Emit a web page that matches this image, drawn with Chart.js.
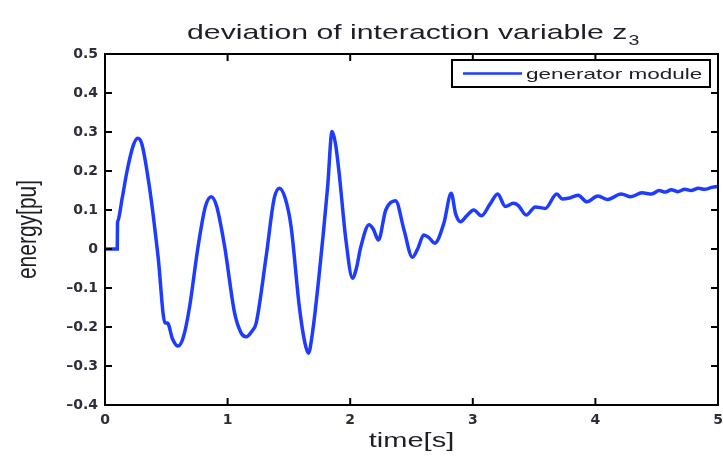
<!DOCTYPE html>
<html>
<head>
<meta charset="utf-8">
<script src="https://cdn.jsdelivr.net/npm/chart.js@4.4.1/dist/chart.umd.min.js"></script>
<style>
    body { margin: 0; background: #fff; }
</style>
</head>
<body>
<canvas id="z3" width="723" height="457"></canvas>
<script>
// texts
const chart_title = 'deviation of interaction variable z';
const title_sub = '3';
const series_label = 'generator module';
const x_title = 'time[s]';
const y_title = 'energy[pu]';

// tick values
const x_ticks = [0, 1, 2, 3, 4, 5];
const y_ticks = [-0.4, -0.3, -0.2, -0.1, 0, 0.1, 0.2, 0.3, 0.4, 0.5];

// curve
const time_s = [0, 0.1, 0.102, 0.105, 0.14, 0.18, 0.23, 0.266, 0.3, 0.366, 0.433, 0.49, 0.51, 0.55, 0.596, 0.64,
    0.69, 0.759, 0.82, 0.867, 0.91, 0.976, 1.057, 1.11, 1.152, 1.2, 1.233, 1.314, 1.38, 1.423, 1.47,
    1.518, 1.585, 1.63, 1.659, 1.69, 1.748, 1.816, 1.852, 1.88, 1.91, 1.965, 2.019, 2.05, 2.087, 2.154,
    2.19, 2.23, 2.29, 2.37, 2.439, 2.507, 2.55, 2.6, 2.64, 2.69, 2.764, 2.824, 2.86, 2.9, 2.95, 3.008,
    3.07, 3.14, 3.203, 3.265, 3.33, 3.37, 3.436, 3.51, 3.59, 3.685, 3.73, 3.78, 3.86, 3.93, 4.02, 4.1,
    4.21, 4.29, 4.38, 4.46, 4.52, 4.57, 4.62, 4.67, 4.73, 4.78, 4.84, 4.89, 4.95, 5];
const energy_pu = [0, 0, 0.067, 0.072, 0.13, 0.2, 0.265, 0.284, 0.27, 0.151, -0.02, -0.19, -0.19, -0.23, -0.249, -0.225,
    -0.148, 0.006, 0.11, 0.134, 0.11, 0.006, -0.164, -0.215, -0.225, -0.21, -0.19, -0.02, 0.13, 0.156, 0.13,
    0.057, -0.148, -0.24, -0.267, -0.22, -0.062, 0.16, 0.301, 0.27, 0.194, 0.023, -0.075, -0.05, 0.006, 0.062,
    0.05, 0.023, 0.1, 0.124, 0.049, -0.021, 0.0, 0.036, 0.03, 0.015, 0.066, 0.143, 0.09, 0.07, 0.085, 0.1,
    0.085, 0.115, 0.141, 0.109, 0.117, 0.112, 0.087, 0.108, 0.104, 0.141, 0.128, 0.13, 0.138, 0.121, 0.136, 0.127,
    0.141, 0.134, 0.144, 0.141, 0.15, 0.146, 0.152, 0.147, 0.153, 0.15, 0.156, 0.153, 0.158, 0.16];

const line_color = '#1e3cff';
const text_color = '#1e1e28';

// the source figure is stretched sideways, so texts are drawn scaled
function stretchText(ctx, text, x, y, size, sx, align) {
    ctx.save();
    ctx.translate(x, y);
    ctx.scale(sx, 1);
    ctx.font = size + 'px "Liberation Sans", Arial, sans-serif';
    ctx.textAlign = align;
    ctx.textBaseline = 'alphabetic';
    ctx.fillStyle = text_color;
    ctx.fillText(text, 0, 0);
    const w = ctx.measureText(text).width * sx;
    ctx.restore();
    return w;
}

const matlabFrame = {
    id: 'matlabFrame',
    afterDraw(chart) {
        const ctx = chart.ctx;
        const a = chart.chartArea;
        const xs = chart.scales.x;
        const ys = chart.scales.y;

        // box and inner ticks
        ctx.save();
        ctx.strokeStyle = '#000';
        ctx.lineWidth = 2;
        ctx.beginPath();
        ctx.rect(a.left, a.top, a.right - a.left, a.bottom - a.top);
        ctx.stroke();
        ctx.beginPath();
        x_ticks.forEach(v => {
            const px = xs.getPixelForValue(v);
            ctx.moveTo(px, a.bottom); ctx.lineTo(px, a.bottom - 7);
            ctx.moveTo(px, a.top); ctx.lineTo(px, a.top + 7);
        });
        y_ticks.forEach(v => {
            const py = ys.getPixelForValue(v);
            ctx.moveTo(a.left, py); ctx.lineTo(a.left + 7, py);
            ctx.moveTo(a.right, py); ctx.lineTo(a.right - 7, py);
        });
        ctx.stroke();
        ctx.restore();

        // title with subscript
        const w = stretchText(ctx, chart_title, 187, 39, 21, 1.44, 'left');
        stretchText(ctx, title_sub, 187 + w + 1, 45, 14, 1.4, 'left');

        // axis titles
        stretchText(ctx, x_title, (a.left + a.right) / 2, 447, 20, 1.45, 'center');
        ctx.save();
        ctx.translate(36, (a.top + a.bottom) / 2);
        ctx.rotate(-Math.PI / 2);
        ctx.scale(1.05, 1.35);
        ctx.font = '20px "Liberation Sans", Arial, sans-serif';
        ctx.textAlign = 'center';
        ctx.fillStyle = text_color;
        ctx.fillText(y_title, 0, 0);
        ctx.restore();

        // legend box in the upper right corner
        const bx = a.right - 266, by = a.top + 6, bw = 258, bh = 27;
        ctx.save();
        ctx.fillStyle = '#fff';
        ctx.fillRect(bx, by, bw, bh);
        ctx.strokeStyle = '#000';
        ctx.lineWidth = 2;
        ctx.strokeRect(bx, by, bw, bh);
        ctx.strokeStyle = line_color;
        ctx.lineWidth = 2.5;
        ctx.beginPath();
        ctx.moveTo(bx + 11, by + bh / 2);
        ctx.lineTo(bx + 70, by + bh / 2);
        ctx.stroke();
        ctx.restore();
        stretchText(ctx, chart.data.datasets[0].label, bx + 74, by + 19, 15, 1.5, 'left');
    }
};

const data = {
    datasets: [{
        label: series_label,
        data: time_s.map((t, i) => ({ x: t, y: energy_pu[i] })),
        borderColor: line_color,
        borderWidth: 3.5,
        pointRadius: 0,
        fill: false,
        cubicInterpolationMode: 'monotone'
    }]
};

const tickFont = { family: 'DejaVu Sans', size: 14, weight: 'bold' };

const config = {
    type: 'line',
    data,
    options: {
        responsive: false,
        animation: false,
        layout: {
            padding: { top: 54, right: 5, left: 0, bottom: 0 }
        },
        plugins: {
            legend: { display: false },
            title: { display: false },
            tooltip: { enabled: false }
        },
        scales: {
            x: {
                type: 'linear',
                min: 0,
                max: 5,
                afterBuildTicks: s => { s.ticks = x_ticks.map(v => ({ value: v })); },
                afterFit: s => { s.height = 52; s.paddingLeft = 0; s.paddingRight = 0; },
                grid: { display: false, drawTicks: false },
                border: { display: false },
                ticks: {
                    padding: 7,
                    color: '#2e2e3a',
                    font: tickFont,
                    callback: v => String(v)
                }
            },
            y: {
                type: 'linear',
                min: -0.4,
                max: 0.5,
                afterBuildTicks: s => { s.ticks = y_ticks.map(v => ({ value: v })); },
                afterFit: s => { s.width = 105; s.paddingTop = 0; s.paddingBottom = 0; },
                grid: { display: false, drawTicks: false },
                border: { display: false },
                ticks: {
                    padding: 7,
                    color: '#2e2e3a',
                    font: tickFont,
                    callback: v => Math.abs(v) < 1e-9 ? '0' : (v < 0 ? '\u2013' + Math.abs(v).toFixed(1) : v.toFixed(1))
                }
            }
        }
    },
    plugins: [matlabFrame]
};

const ctx = document.getElementById('z3');

new Chart(ctx, config);
</script>
</body>
</html>
